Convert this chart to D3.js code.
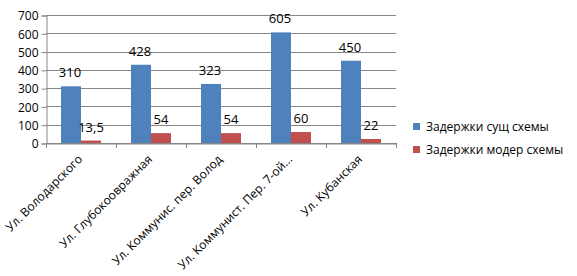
<!DOCTYPE html>
<html>
<head>
<meta charset="utf-8">
<script src="https://cdn.jsdelivr.net/npm/d3@7"></script>
<style>
  body { margin: 0; background: #fff; }
  svg text { font-family: "Open Sans", "Noto Sans", sans-serif; fill: #000; }
</style>
</head>
<body>
<svg id="chart" width="577" height="276"></svg>
<script>
// data
let categories = ["Ул. Володарского", "Ул. Глубокоовражная", "Ул. Коммунис. пер. Волод", "Ул. Коммунист. Пер. 7-ой...", "Ул. Кубанская"];
let seriesNames = ["Задержки сущ схемы", "Задержки модер схемы"];
let existing = [310, 428, 323, 605, 450];
let modern = [13.5, 54, 54, 60, 22];
let yTicks = [0, 100, 200, 300, 400, 500, 600, 700];
let colors = ["#4F81BD", "#C0504D"];

let svg = d3.select("#chart");
let plotLeft = 46, plotRight = 396, plotTop = 15, plotBottom = 143;

let xScale = d3.scaleBand()
    .domain(categories)
    .range([plotLeft, plotRight]);

let inner = d3.scaleBand()
    .domain([0, 1])
    .range([15, xScale.bandwidth() - 15]);

let yScale = d3.scaleLinear()
    .domain([0, 700])
    .range([plotBottom, plotTop]);

// grid lines
svg.selectAll(".grid")
    .data(yTicks)
    .enter()
    .append("line")
    .attr("x1", plotLeft)
    .attr("x2", plotRight)
    .attr("y1", d => Math.round(yScale(d)) + 0.5)
    .attr("y2", d => Math.round(yScale(d)) + 0.5)
    .attr("stroke", "#868686")
    .attr("stroke-width", 1);

// y axis
let yAxis = svg.append("g")
    .attr("transform", "translate(" + (plotLeft + 0.5) + ",0.5)")
    .call(d3.axisLeft(yScale).tickValues(yTicks).tickSize(5).tickPadding(3));
yAxis.selectAll("line, path").attr("stroke", "#868686");
yAxis.selectAll("text")
    .style("font-size", "12px")
    .attr("dy", "0.36em");

// bars
let series = [existing, modern];
series.forEach(function(values, s) {
    svg.selectAll(".bar" + s)
        .data(values)
        .enter()
        .append("rect")
        .attr("x", (d, i) => xScale(categories[i]) + inner(s))
        .attr("y", d => yScale(d))
        .attr("width", inner.bandwidth())
        .attr("height", d => yScale(0) - yScale(d))
        .attr("fill", colors[s]);

    svg.selectAll(".label" + s)
        .data(values)
        .enter()
        .append("text")
        .attr("x", (d, i) => xScale(categories[i]) + inner(s) + inner.bandwidth() / 2 + (s == 1 ? 0 : -1))
        .attr("y", d => yScale(d) - 9)
        .text(d => String(d).replace(".", ","))
        .style("text-anchor", "middle")
        .style("font-size", "13px");
});

// x axis
let xAxis = svg.append("g")
    .attr("transform", "translate(0.5," + (plotBottom + 0.5) + ")")
    .call(d3.axisBottom(xScale).tickSize(0).tickFormat(""));
xAxis.select("path").attr("stroke", "#868686");
let boundaries = categories.map(c => xScale(c)).concat([plotRight]);
svg.selectAll(".xtick")
    .data(boundaries)
    .enter()
    .append("line")
    .attr("x1", d => Math.round(d) + 0.5)
    .attr("x2", d => Math.round(d) + 0.5)
    .attr("y1", plotBottom)
    .attr("y2", plotBottom + 5)
    .attr("stroke", "#868686");

// rotated category labels
svg.selectAll(".xlabel")
    .data(categories)
    .enter()
    .append("text")
    .attr("transform", d => "translate(" + (xScale(d) + xScale.bandwidth() / 2 + 2) + "," + (plotBottom + 17) + ") rotate(-45)")
    .text(d => d)
    .style("text-anchor", "end")
    .style("font-size", "12px");

// legend
let legend = svg.selectAll(".legend")
    .data(seriesNames)
    .enter()
    .append("g")
    .attr("transform", (d, i) => "translate(413," + (123 + i * 23) + ")");
legend.append("rect")
    .attr("width", 7)
    .attr("height", 7)
    .attr("fill", (d, i) => colors[i]);
legend.append("text")
    .attr("x", 13)
    .attr("y", 4)
    .attr("dy", "0.36em")
    .text(d => d)
    .style("font-size", "12px");
</script>
</body>
</html>
